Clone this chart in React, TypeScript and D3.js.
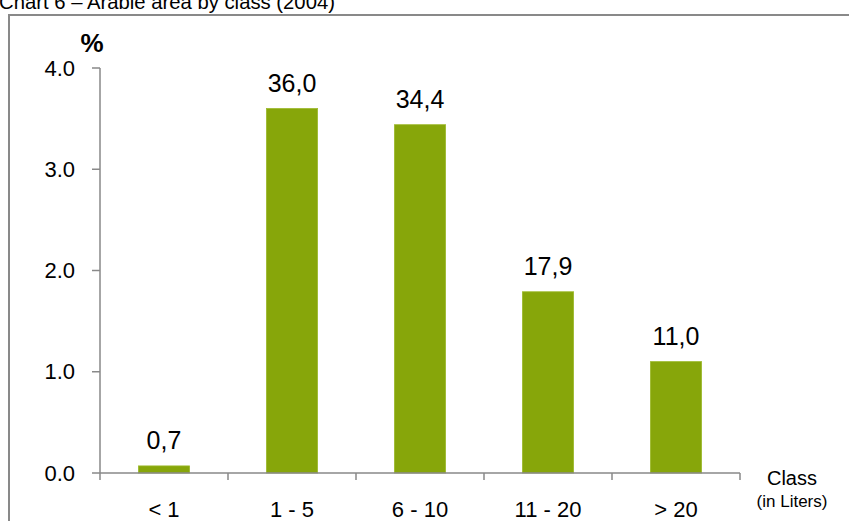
import React from "react";
import * as d3 from "d3";

const categories = ["< 1", "1 - 5", "6 - 10", "11 - 20", "> 20"];
const values = [0.07, 3.6, 3.44, 1.79, 1.1];
const labels = ["0,7", "36,0", "34,4", "17,9", "11,0"];
const yTicks = [0, 1, 2, 3, 4];

const W = 849;
const H = 521;
const FONT = "'Liberation Sans', Arial, sans-serif";

export default function App() {
  const x0 = 100, x1 = 740, yTop = 68, yBot = 473;
  const x = d3.scaleBand<string>().domain(categories).range([x0, x1]).paddingInner(0.6).paddingOuter(0.3);
  const xb = d3.scaleBand<string>().domain(categories).range([x0, x1]);
  const y = d3.scaleLinear().domain([0, 4]).range([yBot, yTop]);
  const axisColor = "#898989";
  return (
    <svg width={W} height={H} style={{ position: "absolute", left: 0, top: 0, background: "#fff" }} fontFamily={FONT}>
      <text x={-1} y={9} fontSize={20.3} fill="#000">Chart 6 – Arable area by class (2004)</text>
      <rect x={9} y={15} width={W + 10} height={H + 10} fill="none" stroke={axisColor} strokeWidth={2} />
      <text x={92} y={52} fontSize={26} fontWeight="bold" textAnchor="middle">%</text>
      {yTicks.map((t) => (
        <g key={t}>
          <line x1={92} x2={x0} y1={y(t)} y2={y(t)} stroke={axisColor} strokeWidth={1.5} />
          <text x={75} y={y(t)} dy="0.35em" fontSize={22} textAnchor="end">{t.toFixed(1)}</text>
        </g>
      ))}
      <line x1={x0} x2={x0} y1={yTop} y2={yBot} stroke={axisColor} strokeWidth={1.5} />
      {categories.map((c, i) => (
        <g key={c}>
          <rect x={x(c)} y={y(values[i])} width={x.bandwidth()} height={yBot - y(values[i])} fill="#87A60A" stroke="#9dba2c" strokeWidth={0.8} />
          <text x={(x(c) as number) + x.bandwidth() / 2} y={y(values[i]) - 17} fontSize={25} textAnchor="middle">{labels[i]}</text>
          <text x={(xb(c) as number) + xb.bandwidth() / 2} y={517} fontSize={22} textAnchor="middle">{c}</text>
          <line x1={xb(c)} x2={xb(c)} y1={yBot} y2={yBot + 7} stroke={axisColor} strokeWidth={1.5} />
        </g>
      ))}
      <line x1={x1} x2={x1} y1={yBot} y2={yBot + 7} stroke={axisColor} strokeWidth={1.5} />
      <line x1={x0} x2={x1} y1={yBot} y2={yBot} stroke={axisColor} strokeWidth={1.5} />
      <text x={792} y={485} fontSize={20} textAnchor="middle">Class</text>
      <text x={792} y={507} fontSize={17} textAnchor="middle">(in Liters)</text>
    </svg>
  );
}
